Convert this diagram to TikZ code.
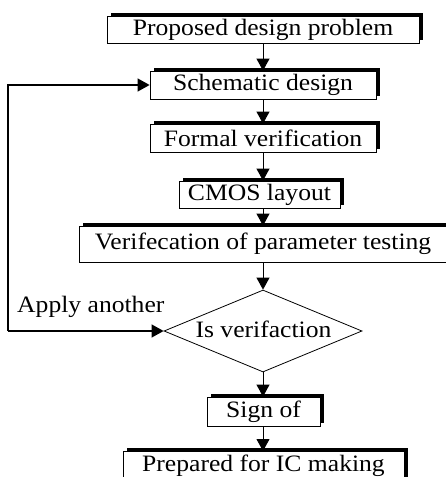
\documentclass[tikz,border=0pt]{standalone}
\usepackage{fontspec}
\setmainfont{Liberation Serif}[FakeStretch=1.09]
\usetikzlibrary{shapes.geometric,shadows,arrows.meta}
\begin{document}
\begin{tikzpicture}[x=1pt,y=-1pt,
  font=\fontsize{23.5}{27}\selectfont,
  stepbox/.style={draw,line width=0.8pt,fill=white,inner sep=0pt,
    general shadow={fill=black,shadow xshift=3.5pt,shadow yshift=3.5pt}},
  tri/.style={-{Triangle[width=13pt,length=12pt]}},
  conn/.style={line width=0.9pt}]
\clip (0,0) rectangle (446,477);
\useasboundingbox (0,0) rectangle (446,477);
\fill[white] (0,0) rectangle (446,477);
\node[stepbox,minimum width=312pt,minimum height=27pt] (b1) at (263,30) {Proposed design problem};
\node[stepbox,minimum width=226pt,minimum height=28pt] (b2) at (263,85) {Schematic design};
\node[stepbox,minimum width=226pt,minimum height=28pt] (b3) at (263,138) {Formal verification};
\node[stepbox,minimum width=161pt,minimum height=27pt] (b4) at (259.5,194.5) {CMOS layout};
\node[stepbox,minimum width=368pt,minimum height=36pt] (b5) at (263,244) {Verifecation of parameter testing};
\node[draw,line width=0.8pt,diamond,aspect=2.4,minimum width=198pt,minimum height=82pt,inner sep=0pt] (d) at (263,331) {};
\node[anchor=base] (dtext) at (263.5,337) {Is verifaction};
\node[stepbox,minimum width=113pt,minimum height=29pt] (b6) at (263.5,411.5) {Sign of};
\node[stepbox,minimum width=281pt,minimum height=36pt,anchor=north] (b7) at (263.5,451) {};
\node[anchor=base] (b7text) at (263.5,471.5) {Prepared for IC making};
\node[anchor=base west,inner sep=0pt] (apply) at (17,312) {Apply another};
\coordinate (fb) at (8,331);
\draw[conn,tri] (b1.south -| 263,0) -- (b2.north -| 263,0);
\draw[conn,tri] (b2.south -| 263,0) -- (b3.north -| 263,0);
\draw[conn,tri] (b3.south -| 263,0) -- (b4.north -| 263,0);
\draw[conn,tri] (b4.south -| 263,0) -- (b5.north -| 263,0);
\draw[conn,tri] (b5.south -| 263,0) -- (d.north);
\draw[conn,tri] (d.south) -- (b6.north -| 263,0);
\draw[conn,tri] (b6.south -| 263,0) -- (b7.north -| 263,0);
\draw[conn,line width=1.2pt,tri] (fb) -- (d.west);
\draw[conn,line width=1.2pt,tri] (fb) |- (b2.west);
\end{tikzpicture}
\end{document}
